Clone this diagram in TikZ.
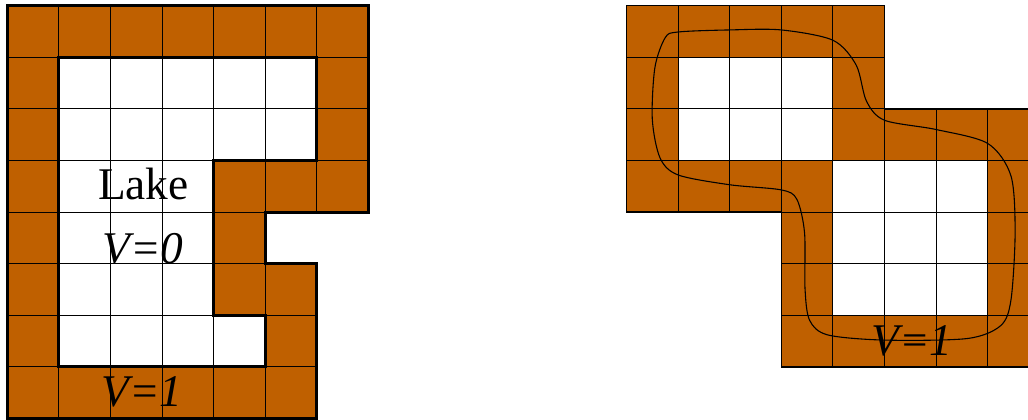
\documentclass[tikz,border=0pt]{standalone}
\usepackage{fontspec}
\setmainfont{Liberation Serif}
\usepackage{tikz}
\definecolor{rust}{RGB}{191,96,0}

\begin{document}
\begin{tikzpicture}[every node/.style={font=\fontsize{25}{30}\selectfont}]
    \useasboundingbox (-0.14,-0.02) rectangle (19.78,8.11);

    % left: lake surrounded by land
    \fill[rust] (0,8) -- (7,8) -- (7,4) -- (5,4) -- (5,3) -- (6,3) -- (6,0) -- (0,0) -- cycle;
    \fill[white] (1,7) -- (6,7) -- (6,5) -- (4,5) -- (4,2) -- (5,2) -- (5,1) -- (1,1) -- cycle;
    \begin{scope}
        \clip (0,8) -- (7,8) -- (7,4) -- (5,4) -- (5,3) -- (6,3) -- (6,0) -- (0,0) -- cycle;
        \draw[line width=0.5pt] (0,0) grid (7,8);
    \end{scope}
    \draw[line width=1.6pt] (0,8) -- (7,8) -- (7,4) -- (5,4) -- (5,3) -- (6,3) -- (6,0) -- (0,0) -- cycle;
    \draw[line width=1.6pt] (1,7) -- (6,7) -- (6,5) -- (4,5) -- (4,2) -- (5,2) -- (5,1) -- (1,1) -- cycle;

    \node[anchor=base] (lake) at (2.64,4.25) {Lake};
    \node[anchor=base] (vlake) at (2.63,3.01) {\textit{V=0}};
    \node[anchor=base] (vleft) at (2.61,0.23) {\textit{V=1}};

    % right: two ring-shaped regions joined
    \fill[rust] (12,4) rectangle (17,8);
    \fill[rust] (15,1) rectangle (20,6);
    \fill[white] (13,5) rectangle (16,7);
    \fill[white] (16,2) rectangle (19,5);
    \begin{scope}
        \clip (12,4) rectangle (17,8) (15,1) rectangle (20,6);
        \draw[line width=0.5pt] (12,1) grid (20,8);
    \end{scope}
    \draw[line width=0.7pt] (12,8) -- (17,8) -- (17,6) -- (20,6) -- (20,1) -- (15,1) -- (15,4) -- (12,4) -- cycle;

    \draw[line width=0.6pt] plot[smooth cycle] coordinates {
        (13.0,7.49) (14.0,7.53) (15.0,7.53) (16.0,7.33) (16.45,6.85) (16.65,6.15)
        (17.0,5.78) (18.0,5.6) (19.0,5.33) (19.45,4.7) (19.53,3.6) (19.45,2.3)
        (19.25,1.8) (18.6,1.55) (17.0,1.52) (15.9,1.62) (15.55,1.9) (15.46,2.5)
        (15.45,3.6) (15.3,4.25) (15.0,4.43) (14.0,4.53) (13.0,4.72) (12.65,5.05)
        (12.5,5.8) (12.55,6.8) (12.75,7.38)};

    \node[anchor=base] (vright) at (17.53,1.23) {\textit{V=1}};
\end{tikzpicture}
\end{document}
